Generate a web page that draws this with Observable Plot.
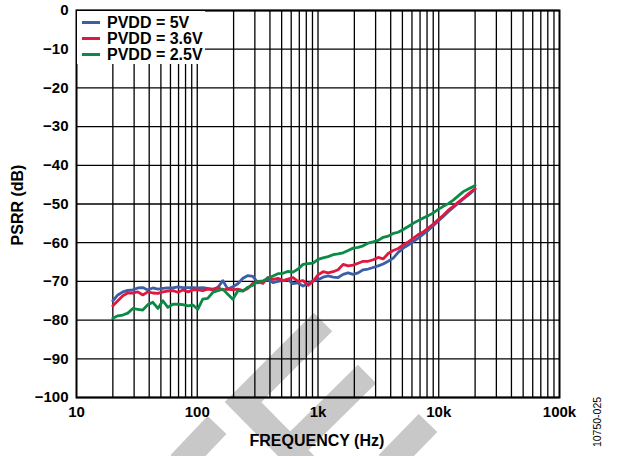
<!DOCTYPE html>
<html>
<head>
<meta charset="utf-8">
<script src="https://cdn.jsdelivr.net/npm/d3@7"></script>
<script src="https://cdn.jsdelivr.net/npm/@observablehq/plot@0.6"></script>
<style>
  html, body { margin: 0; padding: 0; background: #fff; }
  #wrap { position: relative; width: 621px; height: 456px; font-family: Arial, "Liberation Sans", sans-serif; overflow: hidden; }
  #wm, #chart { position: absolute; left: 0; top: 0; }
  #legend { position: absolute; left: 77px; top: 11px; width: 128px; height: 53px; background: #fff; }
  .row { position: absolute; left: 0; height: 15px; }
  .sw { position: absolute; left: 5px; width: 18px; height: 3.5px; }
  .lt { position: absolute; left: 30px; font-weight: bold; font-size: 16px; line-height: 15px; height: 15px; white-space: nowrap; color: #000; }
  .title { position: absolute; font-weight: bold; font-size: 16px; color: #000; white-space: nowrap; }
  #code { position: absolute; font-size: 10.5px; color: #000; white-space: nowrap; }
</style>
</head>
<body>
<div id="wrap">
  <svg id="wm" width="621" height="456">
    <g fill="none" stroke="#c8c8c8" stroke-width="26" stroke-linecap="butt" stroke-linejoin="miter">
      <polyline points="323,322 243,402 310,470"></polyline>
      <line x1="367" y1="374" x2="298" y2="442"></line>
      <line x1="428" y1="423" x2="388" y2="464"></line>
      <line x1="217" y1="425" x2="180" y2="464"></line>
    </g>
  </svg>
  <div id="chart"></div>
  <div id="legend"></div>
  <div class="title" id="xt">FREQUENCY (Hz)</div>
  <div class="title" id="yt">PSRR (dB)</div>
  <div id="code">10750-025</div>
</div>
<script>
// Frequencies (Hz)
const freq = [20, 22, 24.2, 26.6, 29.3, 32.2, 35.4, 39, 42.9, 47.2, 51.9, 57.1, 62.9, 69.2, 76.1, 83.7, 92.1, 101, 111, 122, 135, 148, 163, 179, 197, 217, 239, 263, 289, 318, 350, 385, 424, 466, 513, 565, 621, 684, 752, 827, 910, 1001, 1102, 1212, 1334, 1467, 1614, 1776, 1954, 2150, 2365, 2602, 2863, 3150, 3466, 3813, 4195, 4616, 5078, 5587, 6147, 6763, 7441, 8187, 9007, 9910, 10903, 11996, 13198, 14521, 15976, 17577, 20000];

// PSRR (dB) per supply voltage
const pvdd5 = [-75.0, -73.5, -72.7, -72.3, -72.2, -71.7, -71.6, -72.2, -71.7, -72.0, -71.8, -71.7, -71.7, -71.4, -71.6, -71.6, -71.6, -71.7, -71.6, -71.8, -72.0, -71.6, -69.8, -72.0, -71.4, -70.6, -69.2, -68.5, -68.7, -70.4, -70.0, -69.6, -70.3, -70.0, -69.8, -69.6, -70.6, -70.4, -71.2, -70.6, -69.8, -69.6, -68.9, -68.6, -68.9, -69.0, -68.2, -67.8, -68.2, -67.8, -67.0, -66.8, -66.4, -66.0, -65.5, -64.8, -64.0, -62.5, -61.4, -60.6, -59.7, -58.8, -57.8, -56.8, -55.6, -54.4, -53.2, -52.0, -50.9, -49.8, -48.7, -47.7, -46.2];
const pvdd36 = [-76.3, -75.0, -73.7, -73.0, -73.0, -72.7, -73.5, -72.7, -73.0, -73.1, -72.7, -72.5, -72.4, -72.8, -72.2, -72.7, -72.2, -72.2, -72.4, -72.0, -72.2, -71.6, -72.2, -72.0, -72.2, -72.0, -72.4, -71.8, -70.5, -70.0, -70.5, -69.0, -69.5, -69.2, -69.8, -69.4, -69.0, -70.0, -69.8, -71.0, -70.0, -68.3, -67.5, -67.8, -67.5, -67.0, -65.6, -66.0, -65.8, -65.3, -64.8, -64.8, -64.4, -63.8, -64.2, -62.8, -62.0, -61.5, -60.6, -59.8, -58.9, -57.9, -57.2, -56.2, -55.2, -54.0, -52.9, -51.6, -50.6, -49.5, -48.5, -47.4, -46.0];
const pvdd25 = [-79.5, -78.9, -78.7, -78.2, -77.0, -77.2, -77.4, -76.0, -75.4, -77.0, -75.0, -76.7, -75.9, -75.9, -76.0, -76.3, -76.1, -77.2, -74.6, -74.4, -72.8, -72.4, -72.0, -73.3, -74.6, -72.4, -72.5, -71.5, -71.0, -70.0, -69.9, -69.2, -68.6, -68.0, -67.9, -67.4, -67.6, -66.8, -65.6, -65.4, -65.3, -64.3, -63.9, -63.6, -63.1, -62.9, -62.6, -62.0, -61.4, -61.2, -60.8, -60.1, -59.8, -59.4, -58.6, -58.3, -57.6, -57.3, -56.6, -55.8, -55.0, -54.3, -53.6, -53.0, -52.3, -51.4, -50.6, -49.9, -49.0, -47.9, -46.8, -46.1, -45.2];

const seriesNames = ["PVDD = 5V", "PVDD = 3.6V", "PVDD = 2.5V"];
const seriesColors = ["#3c5ea6", "#e0173f", "#0b8a47"];

// Axis ticks
const decadeTicks = [10, 100, 1000, 10000, 100000];
const decadeLabels = ["10", "100", "1k", "10k", "100k"];
const gridFreqs = [20,30,40,50,60,70,80,90,100,200,300,400,500,600,700,800,900,1000,2000,3000,4000,5000,6000,7000,8000,9000,10000,20000,30000,40000,50000,60000,70000,80000,90000];
const dbTicks = [0, -10, -20, -30, -40, -50, -60, -70, -80, -90, -100];

const allSeries = [pvdd5, pvdd36, pvdd25];
const lineMarks = allSeries.map((vals, s) =>
  Plot.line(freq.map((f, i) => ({f, db: vals[i]})), {
    x: "f", y: "db", stroke: seriesColors[s], strokeWidth: 2.8, strokeLinejoin: "round"
  })
);

const chart = Plot.plot({
  width: 621,
  height: 456,
  marginLeft: 76,
  marginRight: 62,
  marginTop: 10,
  marginBottom: 59,
  style: {background: "transparent", fontFamily: "Arial, 'Liberation Sans', sans-serif", fontSize: "15px", fontWeight: "bold", color: "#000", overflow: "visible"},
  x: {type: "log", domain: [10, 100000]},
  y: {domain: [-100, 0]},
  marks: [
    Plot.ruleX(gridFreqs, {stroke: "#000", strokeWidth: 1.3}),
    Plot.ruleY(dbTicks, {stroke: "#000", strokeWidth: 1.3}),
    ...lineMarks,
    Plot.frame({stroke: "#000", strokeWidth: 2}),
    Plot.axisX(decadeTicks, {tickSize: 0, tickPadding: 9, tickFormat: (d) => decadeLabels[decadeTicks.indexOf(d)], label: null}),
    Plot.axisY(dbTicks, {tickSize: 0, tickPadding: 8, label: null})
  ]
});
document.getElementById("chart").appendChild(chart);

// Legend
const legend = document.getElementById("legend");
const rowTops = [4, 20, 36];
seriesNames.forEach((name, i) => {
  const row = document.createElement("div");
  row.className = "row";
  row.style.top = rowTops[i] + "px";
  const sw = document.createElement("div");
  sw.className = "sw";
  sw.style.background = seriesColors[i];
  sw.style.top = "5.5px";
  const lt = document.createElement("div");
  lt.className = "lt";
  lt.style.top = "0px";
  lt.textContent = name;
  row.appendChild(sw);
  row.appendChild(lt);
  legend.appendChild(row);
});

// Titles
const xt = document.getElementById("xt");
xt.style.left = (317 - xt.offsetWidth / 2) + "px";
xt.style.top = "432px";
const yt = document.getElementById("yt");
yt.style.left = (18 - yt.offsetWidth / 2) + "px";
yt.style.top = (205 - yt.offsetHeight / 2) + "px";
yt.style.transform = "rotate(-90deg)";
const code = document.getElementById("code");
code.style.left = (597 - code.offsetWidth / 2) + "px";
code.style.top = (422 - code.offsetHeight / 2) + "px";
code.style.transform = "rotate(-90deg)";
</script>
</body>
</html>
